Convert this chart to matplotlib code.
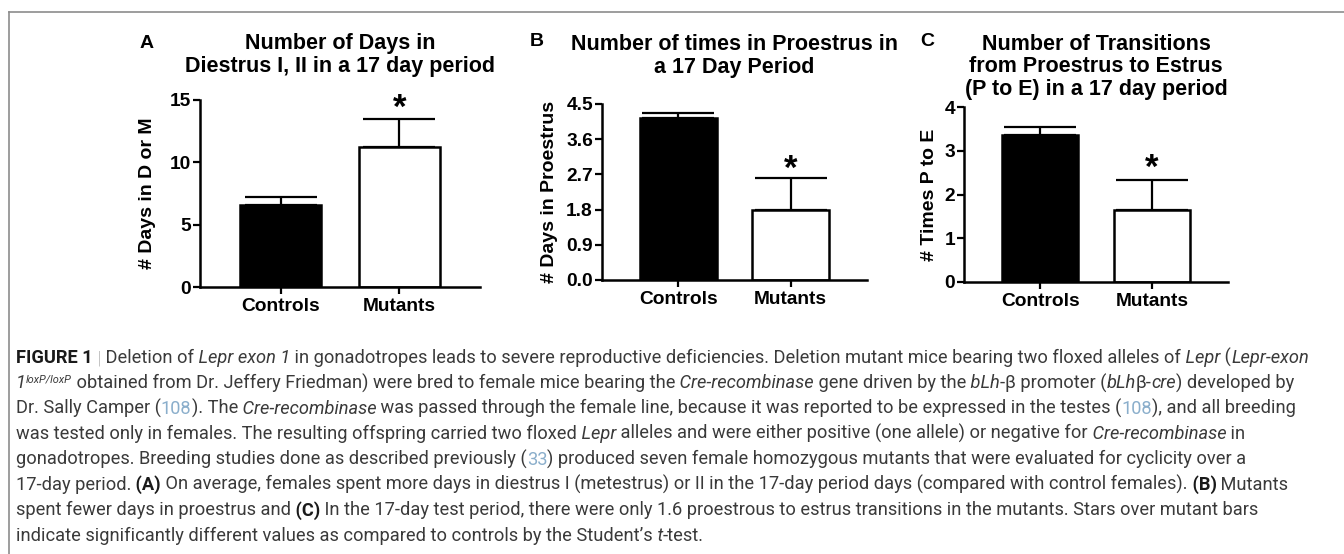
import matplotlib
matplotlib.use("Agg")
import matplotlib.pyplot as plt
from matplotlib.lines import Line2D

# values
groups = ["Controls", "Mutants"]
days_dm = [6.55, 11.2]
days_dm_err = [0.65, 2.3]
days_pro = [4.14, 1.79]
days_pro_err = [0.13, 0.82]
trans_pe = [3.36, 1.65]
trans_pe_err = [0.18, 0.68]

W, H = 1344, 554
plt.rcParams['font.family'] = ['Liberation Sans', 'DejaVu Sans']
plt.rcParams['font.weight'] = 'bold'

fig = plt.figure(figsize=(W / 100, H / 100), dpi=100)


def fx(x):
    return x / W


def fy(y):
    return 1 - y / H


panels = [
    dict(letter='A', letter_xy=(147, 43),
         title='Number of Days in\nDiestrus I, II in a 17 day period', title_y=55,
         ylabel='# Days in D or M', vals=days_dm, errs=days_dm_err,
         ticks=[0, 5, 10, 15], fmt='{:.0f}', star=14.35,
         box=(200, 480, 287, 100), ylab_x=-0.157),
    dict(letter='B', letter_xy=(537, 41),
         title='Number of times in Proestrus in\na 17 Day Period', title_y=56,
         ylabel='# Days in Proestrus', vals=days_pro, errs=days_pro_err,
         ticks=[0, 0.9, 1.8, 2.7, 3.6, 4.5], fmt='{:.1f}', star=2.82,
         box=(602, 867, 280, 104), ylab_x=-0.166),
    dict(letter='C', letter_xy=(927, 41),
         title='Number of Transitions\nfrom Proestrus to Estrus\n(P to E) in a 17 day period', title_y=67,
         ylabel='# Times P to E', vals=trans_pe, errs=trans_pe_err,
         ticks=[0, 1, 2, 3, 4], fmt='{:.0f}', star=2.6,
         box=(964, 1228, 282, 107), ylab_x=-0.098),
]

for p in panels:
    x0, x1, y0, y1 = p['box']
    ax = fig.add_axes([fx(x0), fy(y0), (x1 - x0) / W, (y0 - y1) / H])
    xs = range(len(groups))
    ax.errorbar(list(xs), p['vals'], yerr=[[0, 0], p['errs']], fmt='none',
                ecolor='black', elinewidth=1.6, capsize=26, capthick=1.6, zorder=1)
    ax.bar(xs, p['vals'], width=0.68, color=['black', 'white'],
           edgecolor='black', linewidth=1.8, zorder=2)
    ax.text(1, p['star'], '*', ha='center', va='center', fontsize=25,
            fontweight='bold')
    ax.set_xlim(-0.68, 1.68)
    ax.set_ylim(p['ticks'][0], p['ticks'][-1])
    ax.set_yticks(p['ticks'])
    ax.set_yticklabels([p['fmt'].format(t) for t in p['ticks']])
    ax.set_xticks(list(xs))
    ax.set_xticklabels(groups)
    for side in ('top', 'right'):
        ax.spines[side].set_visible(False)
    for side in ('left', 'bottom'):
        ax.spines[side].set_linewidth(1.8)
    ax.tick_params(direction='out', length=5, width=1.6, labelsize=13.8, pad=1.5)
    ax.tick_params(axis='x', pad=3)
    ax.set_ylabel(p['ylabel'], fontsize=14, fontweight='bold')
    ax.yaxis.set_label_coords(p['ylab_x'], 0.5)
    fig.text(fx(p['letter_xy'][0]), fy(p['letter_xy'][1]), p['letter'],
             ha='center', va='center', fontsize=14, fontweight='bold')
    fig.text(fx((x0 + x1) / 2), fy(p['title_y']), p['title'], ha='center',
             va='center', fontsize=15.5, fontweight='bold', linespacing=1.12)

# frame lines of the page crop
fig.add_artist(Line2D([fx(9), 1], [fy(12), fy(12)], color='#8c8c8c', lw=1.2))
fig.add_artist(Line2D([fx(9), fx(9)], [fy(12), 0], color='#8c8c8c', lw=1.2))

# caption, one list of (text, style) per printed line
caption = [
    [("FIGURE 1", 'b'), (" | ", 'sep'), ("Deletion of ", 'n'), ("Lepr exon 1", 'i'),
     (" in gonadotropes leads to severe reproductive deficiencies. Deletion mutant mice "
      "bearing two floxed alleles of ", 'n'), ("Lepr", 'i'), (" (", 'n'), ("Lepr-exon", 'i')],
    [("1", 'i'), ("loxP/loxP", 'sup'),
     (" obtained from Dr. Jeffery Friedman) were bred to female mice bearing the ", 'n'),
     ("Cre-recombinase", 'i'), (" gene driven by the ", 'n'), ("bLh", 'i'), ("-\u03b2 promoter (", 'n'),
     ("bLh", 'i'), ("\u03b2-", 'n'), ("cre", 'i'), (") developed by", 'n')],
    [("Dr. Sally Camper (", 'n'), ("108", 'ref'), ("). The ", 'n'), ("Cre-recombinase", 'i'),
     (" was passed through the female line, because it was reported to be expressed in the testes (", 'n'),
     ("108", 'ref'), ("), and all breeding", 'n')],
    [("was tested only in females. The resulting offspring carried two floxed ", 'n'), ("Lepr", 'i'),
     (" alleles and were either positive (one allele) or negative for ", 'n'),
     ("Cre-recombinase", 'i'), (" in", 'n')],
    [("gonadotropes. Breeding studies done as described previously (", 'n'), ("33", 'ref'),
     (") produced seven female homozygous mutants that were evaluated for cyclicity over a", 'n')],
    [("17-day period. ", 'n'), ("(A)", 'b'),
     (" On average, females spent more days in diestrus I (metestrus) or II in the 17-day period "
      "days (compared with control females). ", 'n'), ("(B)", 'b'), (" Mutants", 'n')],
    [("spent fewer days in proestrus and ", 'n'), ("(C)", 'b'),
     (" In the 17-day test period, there were only 1.6 proestrous to estrus transitions in the "
      "mutants. Stars over mutant bars", 'n')],
    [("indicate significantly different values as compared to controls by the Student\u2019s ", 'n'),
     ("t", 'i'), ("-test.", 'n')],
]

cap_font = ['Roboto', 'DejaVu Sans']
renderer = fig.canvas.get_renderer()


def styles(size):
    base = dict(family=cap_font, weight='normal', color='#3a3a3a', size=size)
    return {
        'n': base,
        'i': dict(base, style='italic'),
        'b': dict(base, weight='bold', color='#1a1a1a'),
        'sep': dict(base, color='#888888', weight='light'),
        'ref': dict(base, color='#8aaecb'),
        'sup': dict(base, style='italic', size=size * 0.6),
    }


def draw_line(segs, x, base_y, size):
    st = styles(size)
    carry = ''
    made = []
    for text, kind in segs:
        text = carry + text
        body = text.rstrip(' ')
        carry = text[len(body):]
        dy = 6 if kind == 'sup' else 0
        t = fig.text(fx(x), fy(base_y - dy), body, ha='left', va='baseline', **st[kind])
        made.append(t)
        x = t.get_window_extent(renderer).x1
    return made, x


# size the caption so line 6 spans the same width as in the reference
probe, x_end = draw_line(caption[5], 16, 490, 12)
for t in probe:
    t.remove()
cap_size = 12 * (1282 - 16) / (x_end - 16)

for k, line in enumerate(caption):
    draw_line(line, 16, 363 + k * 25.4, cap_size)

fig.savefig('out.png', dpi=100)
